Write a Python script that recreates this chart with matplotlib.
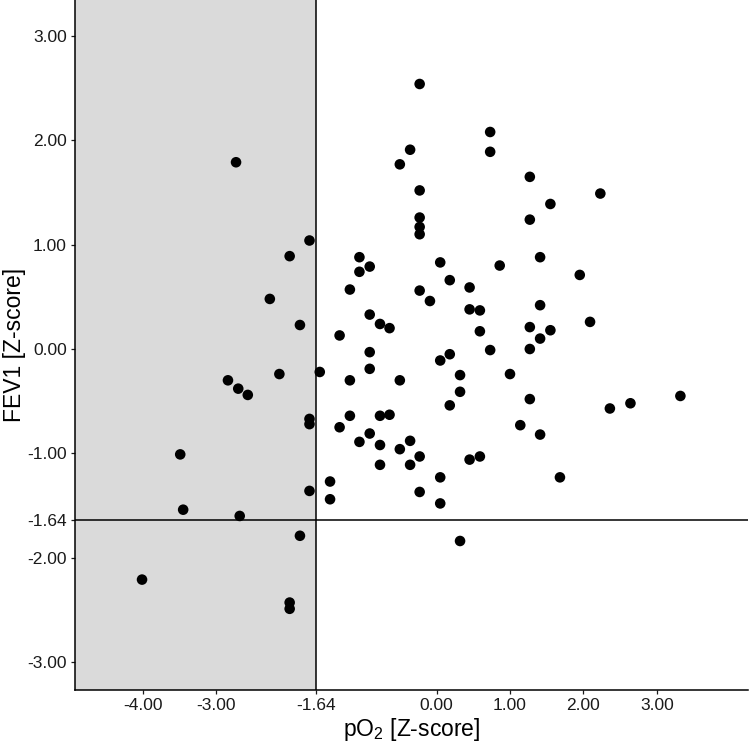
import matplotlib
matplotlib.use("Agg")
import matplotlib.pyplot as plt
from matplotlib.patches import Rectangle

# pO2 and FEV1 z-scores
po2 = [-2.73, -2.00, -1.73, -2.27, -1.86, -2.84, -2.70, -2.57, -2.14, -1.73,
       -1.73, -3.49, -1.73, -3.45, -2.68, -1.86, -4.01, -2.00, -2.00, -1.59,
       -0.23, 0.73, 0.73, -0.36, -0.50, 1.27, -0.23, 1.27, -0.23, -0.23,
       -0.23, -1.05, -0.91, -1.05, -1.18, 0.05, 0.18, 0.86, 0.45, -0.23,
       -0.09, 0.45, 0.59, -0.91, -0.77, -0.64, 0.59, -1.32, -0.91, 0.73,
       0.05, 0.18, -0.91, -1.18, -0.50, 0.32, 1.00, 0.32, 0.18, 1.27,
       -1.18, -0.77, -0.64, -1.32, -0.91, -1.05, -0.77, -0.36, -0.50, -0.23,
       -0.36, -0.77, 0.45, 0.59, 1.14, 1.41, 1.27, 1.41, 1.27, 1.41,
       -1.45, -1.45, 0.05, -0.23, 0.05, 0.32, 1.55, 2.09, 2.36, 2.64,
       3.32, 1.68, 2.23, 1.55, 1.41, 1.95]
fev1 = [1.79, 0.89, 1.04, 0.48, 0.23, -0.30, -0.38, -0.44, -0.24, -0.67,
        -0.72, -1.01, -1.36, -1.54, -1.60, -1.79, -2.21, -2.43, -2.49, -0.22,
        2.54, 2.08, 1.89, 1.91, 1.77, 1.65, 1.52, 1.24, 1.26, 1.17,
        1.10, 0.88, 0.79, 0.74, 0.57, 0.83, 0.66, 0.80, 0.59, 0.56,
        0.46, 0.38, 0.37, 0.33, 0.24, 0.20, 0.17, 0.13, -0.03, -0.01,
        -0.11, -0.05, -0.19, -0.30, -0.30, -0.25, -0.24, -0.41, -0.54, -0.48,
        -0.64, -0.64, -0.63, -0.75, -0.81, -0.89, -0.92, -0.88, -0.96, -1.03,
        -1.11, -1.11, -1.06, -1.03, -0.73, -0.82, 0.21, 0.10, 0.00, 0.42,
        -1.27, -1.44, -1.23, -1.37, -1.48, -1.84, 0.18, 0.26, -0.57, -0.52,
        -0.45, -1.23, 1.49, 1.39, 0.88, 0.71]

cutoff = -1.64
x_ticks = [-4.00, -3.00, -1.64, 0.00, 1.00, 2.00, 3.00]
y_ticks = [3.00, 2.00, 1.00, 0.00, -1.00, -1.64, -2.00, -3.00]

plt.rcParams['font.family'] = ['Liberation Sans', 'DejaVu Sans']
plt.rcParams['mathtext.default'] = 'regular'

fig = plt.figure(figsize=(7.49, 7.44), dpi=100)
ax = fig.add_axes([0.1001, 0.0726, 0.8986, 0.9274])

xlim = (-4.923, 4.241)
ylim = (-3.268, 3.345)

# shaded area left of the cut-off
ax.add_patch(Rectangle((xlim[0], ylim[0]), cutoff - xlim[0], ylim[1] - ylim[0],
                       facecolor='#dadada', edgecolor='none', zorder=0))
ax.axvline(cutoff, color='black', lw=1.1, zorder=1)
ax.axhline(cutoff, color='black', lw=1.1, zorder=1)

ax.scatter(po2, fev1, s=58, color='black', edgecolors='none', zorder=3)

ax.set_xlim(*xlim)
ax.set_ylim(*ylim)
ax.set_xticks(x_ticks)
ax.set_xticklabels([f'{v:.2f}' for v in x_ticks])
ax.set_yticks(y_ticks)
ax.set_yticklabels([f'{v:.2f}' for v in y_ticks])

for side in ['top', 'right']:
    ax.spines[side].set_visible(False)
for side in ['left', 'bottom']:
    ax.spines[side].set_linewidth(1.1)
ax.tick_params(axis='both', length=2.8, width=0.9, pad=3, labelsize=12.5,
               colors='#1a1a1a')

ax.set_xlabel('pO$_2$ [Z-score]', fontsize=16.5, labelpad=2)
ax.set_ylabel('FEV1 [Z-score]', fontsize=16.5, labelpad=1)

fig.savefig('out.png', dpi=100)
